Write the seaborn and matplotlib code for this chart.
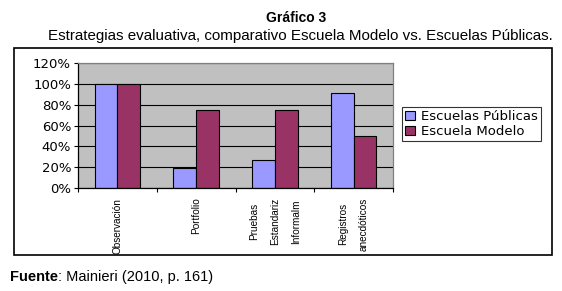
import pandas as pd
import matplotlib
matplotlib.use('Agg')
import matplotlib.pyplot as plt
from matplotlib.patches import Rectangle
from matplotlib.transforms import offset_copy
import seaborn as sns

# --- data ---
categories = ['Observación', 'Portfolio', 'Pruebas\nEstandariz\nInformalm', 'Registros\nanecdóticos']
publicas = [100, 19, 27, 91]
modelo = [100, 75, 75, 50]
series_names = ['Escuelas Públicas', 'Escuela Modelo']
y_ticks = [0, 20, 40, 60, 80, 100, 120]

df = pd.DataFrame({
    'Estrategia': categories * 2,
    'Valor': publicas + modelo,
    'Serie': [series_names[0]] * len(categories) + [series_names[1]] * len(categories),
})

sns.set_style('white')
plt.rcParams['font.family'] = ['Liberation Sans', 'DejaVu Sans']
plt.rcParams['text.color'] = 'black'
plt.rcParams['xtick.color'] = 'black'
plt.rcParams['ytick.color'] = 'black'

W, H = 562, 291
fig = plt.figure(figsize=(W / 100, H / 100), dpi=100)

# outer chart frame
fig.add_artist(Rectangle((14 / W, 1 - 255 / H), (552 - 14) / W, (255 - 48) / H,
                         transform=fig.transFigure, fill=False, edgecolor='black', linewidth=1.2))

ax = fig.add_axes([78 / W, 1 - 188 / H, (393 - 78) / W, (188 - 63) / H])
ax.set_facecolor('#C0C0C0')

sns.barplot(ax=ax, data=df, x='Estrategia', y='Valor', hue='Serie', order=categories,
            hue_order=series_names, palette=['#9999FF', '#993366'], width=0.58,
            edgecolor='black', linewidth=0.8, saturation=1, legend=True)

ax.set_ylim(0, 120)
ax.set_xlim(-0.5, len(categories) - 0.5)
ax.set_yticks(y_ticks)
ax.set_yticklabels([f'{v}%' for v in y_ticks], family='DejaVu Sans', fontsize=9.5)
ax.yaxis.grid(True, color='black', linewidth=0.8)
ax.set_axisbelow(True)
ax.tick_params(axis='y', length=3, width=0.8, color='black', pad=2, left=True)

# category ticks between groups, labels at centers
ax.set_xticks([i - 0.5 for i in range(len(categories) + 1)])
ax.set_xticklabels([])
ax.set_xticks(range(len(categories)), minor=True)
ax.set_xticklabels(categories, minor=True, rotation=90, fontsize=7.2, va='top',
                   ha='center', multialignment='center', linespacing=2.35)
ax.tick_params(axis='x', which='major', length=3, width=0.8, color='black', bottom=True)
ax.tick_params(axis='x', which='minor', length=0, pad=7)

ax.set_xlabel('')
ax.set_ylabel('')
for side in ['left', 'bottom']:
    ax.spines[side].set_color('black')
    ax.spines[side].set_linewidth(0.9)
for side in ['top', 'right']:
    ax.spines[side].set_color('#808080')
    ax.spines[side].set_linewidth(0.9)

leg = ax.legend(loc='upper left', bbox_to_anchor=(402 / W, 1 - 107 / H),
                bbox_transform=fig.transFigure, frameon=True, fancybox=False,
                prop={'family': 'DejaVu Sans', 'size': 9.5}, handlelength=0.7,
                handleheight=0.7, handletextpad=0.5, borderpad=0.25, labelspacing=0.12,
                borderaxespad=0)
leg.get_frame().set_edgecolor('black')
leg.get_frame().set_linewidth(0.8)

fig.text(296 / W, 1 - 18 / H, 'Gráfico 3', ha='center', va='center', fontsize=10, fontweight='bold')
fig.text(300 / W, 1 - 36 / H, 'Estrategias evaluativa, comparativo Escuela Modelo vs. Escuelas Públicas.',
         ha='center', va='center', fontsize=10.9)
src = fig.text(10 / W, 1 - 277 / H, 'Fuente', ha='left', va='center', fontsize=10.5, fontweight='bold')
fig.canvas.draw()
src_w = src.get_window_extent().width
fig.text(10 / W, 1 - 277 / H, ': Mainieri (2010, p. 161)', ha='left', va='center', fontsize=10.5,
         transform=offset_copy(fig.transFigure, fig=fig, x=src_w, y=0, units='dots'))

fig.savefig('out.png', dpi=100)
